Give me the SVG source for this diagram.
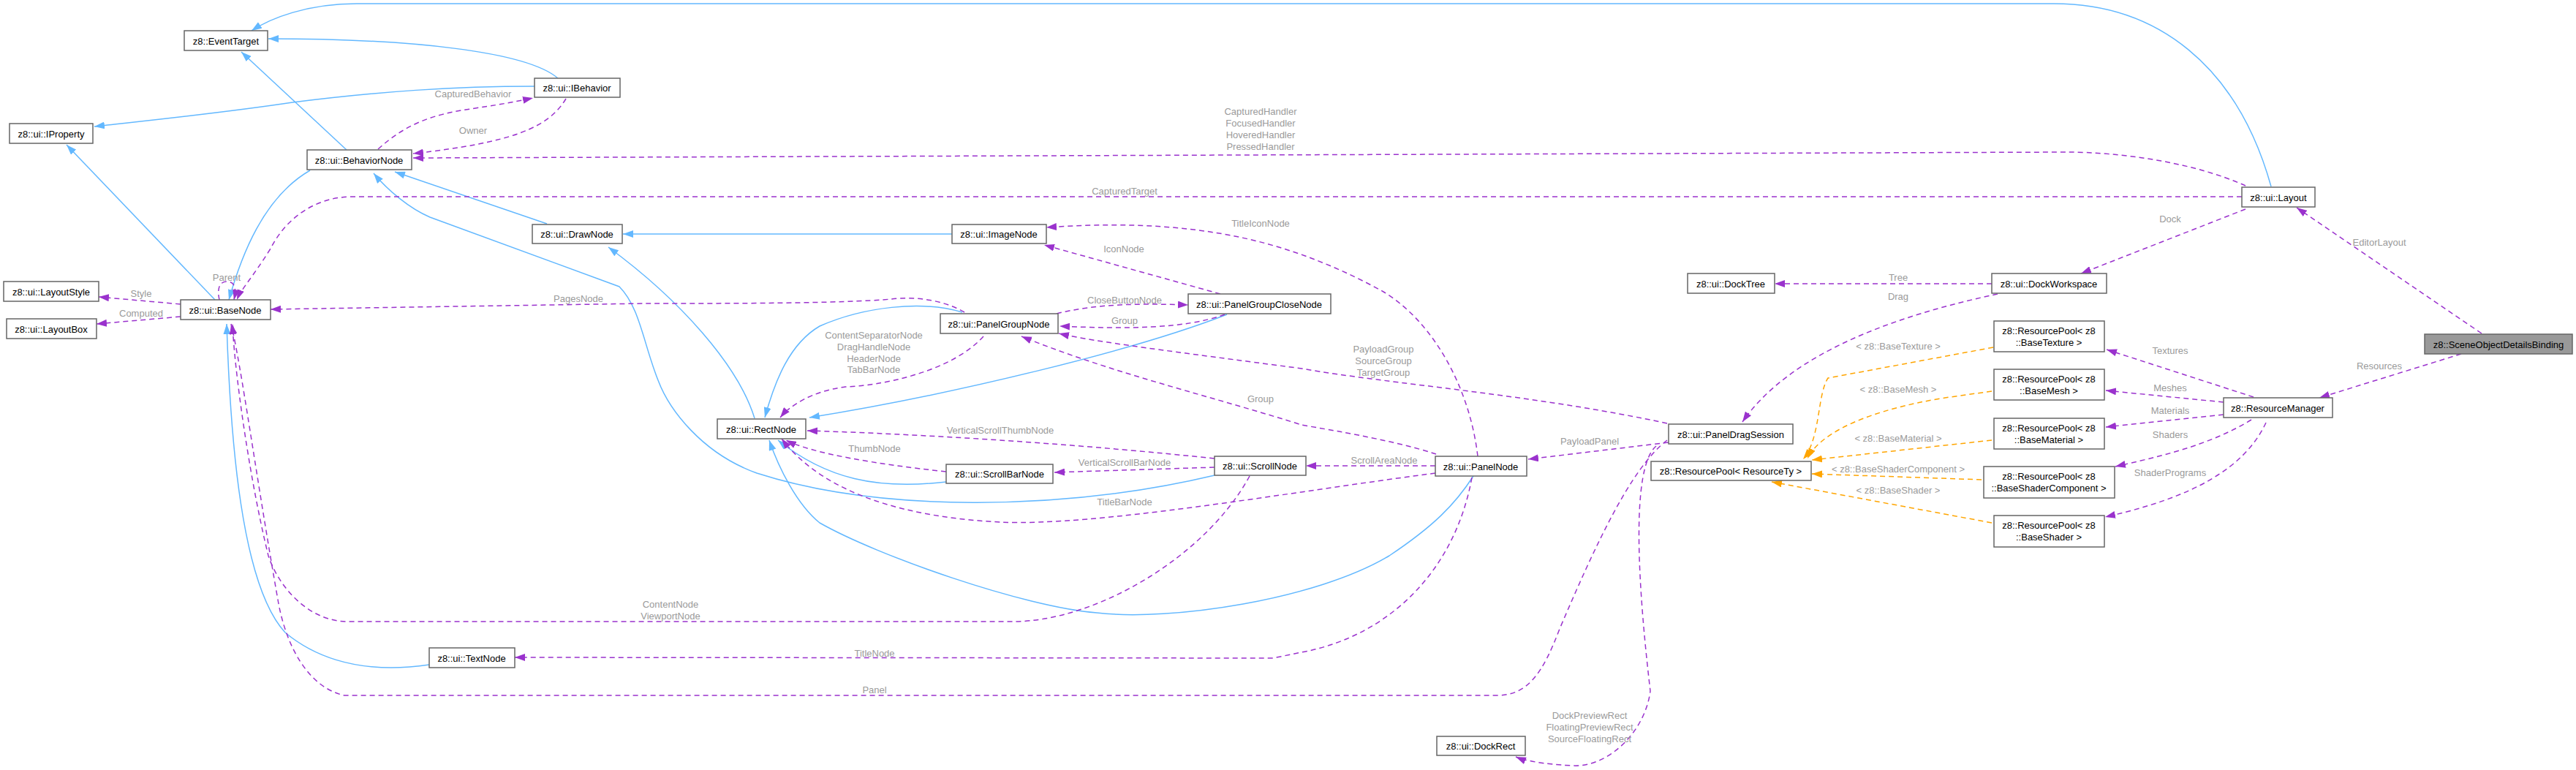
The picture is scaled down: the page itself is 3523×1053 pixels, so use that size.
<svg xmlns="http://www.w3.org/2000/svg" width="3523" height="1053" viewBox="0 0 3523 1053">
<style>
text{font-family:"Liberation Sans",Arial,sans-serif;font-size:13px;text-anchor:middle;dominant-baseline:central}
.n rect{fill:#fff;stroke:#666;stroke-width:1.5}
.n text{fill:#000}
.hl rect{fill:#999}
.l{fill:#9a9a9a}
.e path{fill:none;stroke-width:1.5}
.b{stroke:#63b8ff}
.p{stroke:#9a32cd;stroke-dasharray:7,5}
.o{stroke:#ffa500;stroke-dasharray:7,5}
</style>
<defs>
<marker id="mb" markerUnits="userSpaceOnUse" markerWidth="14" markerHeight="10" refX="14" refY="5" orient="auto"><path d="M0,0L14,5L0,10z" fill="#63b8ff"/></marker>
<marker id="mp" markerUnits="userSpaceOnUse" markerWidth="14" markerHeight="10" refX="14" refY="5" orient="auto"><path d="M0,0L14,5L0,10z" fill="#9a32cd"/></marker>
<marker id="mo" markerUnits="userSpaceOnUse" markerWidth="14" markerHeight="10" refX="14" refY="5" orient="auto"><path d="M0,0L14,5L0,10z" fill="#ffa500"/></marker>
</defs>
<g id="edges" class="e">
<g marker-end="url(#mb)">
<path class="b" d="M3106,255 C3060,90 2950,5 2809,5 L488,5 C420,5 370,25 344,42"/>
<path class="b" d="M763,107 C720,70 560,53 367,53"/>
<path class="b" d="M731,118 C620,118 520,125 400,140 C300,155 200,165 129,173"/>
<path class="b" d="M474,205 L330,71"/>
<path class="b" d="M294,410 L91,198"/>
<path class="b" d="M424,233 C360,270 330,350 313,410"/>
<path class="b" d="M748,306 L540,235"/>
<path class="b" d="M1661,650 C1450,700 1200,700 1035,647 C960,620 915,560 900,520 C880,470 875,420 847,392 L588,297 C560,285 530,260 511,237"/>
<path class="b" d="M1302,320 L852,320"/>
<path class="b" d="M1032,572 C1010,500 930,410 832,338"/>
<path class="b" d="M1316,427 C1260,410 1180,420 1121,446 C1080,470 1060,520 1046,571"/>
<path class="b" d="M1678,430 C1550,480 1300,540 1107,571"/>
<path class="b" d="M1294,659 C1200,670 1130,655 1064,602"/>
<path class="b" d="M2015,651 C1990,690 1960,720 1900,760 C1800,820 1600,850 1500,838 C1400,830 1200,760 1121,715 C1090,690 1065,640 1052,602"/>
<path class="b" d="M587,909 C480,925 420,890 390,865 C330,800 315,600 310,443"/>
</g>
<g marker-end="url(#mp)">
<path class="p" d="M3071,254 C3000,222 2900,208 2826,208 L565,216"/>
<path class="p" d="M3066,269 L482,269 C430,269 390,300 370,340 C345,380 330,395 324,410"/>
<path class="p" d="M517,204 C560,165 600,155 650,148 C690,142 710,138 729,134"/>
<path class="p" d="M774,135 C750,175 700,195 565,210"/>
<path class="p" d="M300,410 C296,392 302,385 310,385 C320,385 324,392 320,410"/>
<path class="p" d="M247,416 L135,406"/>
<path class="p" d="M247,433 L132,443"/>
<path class="p" d="M1319,427 C1290,410 1250,405 1219,409 C1150,415 1000,415 880,415 L370,423"/>
<path class="p" d="M2021,624 C2010,530 1960,440 1892,399 C1840,370 1780,345 1720,330 C1620,305 1520,305 1431,311"/>
<path class="p" d="M1669,402 L1428,335"/>
<path class="p" d="M1445,429 C1500,415 1560,415 1625,417"/>
<path class="p" d="M1675,430 C1620,450 1540,450 1449,446"/>
<path class="p" d="M2280,579 C2100,540 1900,525 1780,504 C1600,480 1500,468 1448,456"/>
<path class="p" d="M1964,621 C1900,600 1800,585 1780,581 C1650,540 1520,510 1397,460"/>
<path class="p" d="M1345,460 C1300,510 1200,528 1156,529 C1110,535 1080,555 1067,571"/>
<path class="p" d="M1661,627 C1500,610 1300,595 1104,589"/>
<path class="p" d="M1294,645 C1200,635 1110,620 1075,602"/>
<path class="p" d="M1661,639 L1442,646"/>
<path class="p" d="M1963,637 L1786,637"/>
<path class="p" d="M1963,647 C1750,675 1500,720 1368,714 C1250,708 1130,680 1069,600"/>
<path class="p" d="M2282,605 L2090,628"/>
<path class="p" d="M1709,651 C1650,760 1500,850 1385,850 L476,850 C420,850 380,800 367,760 C340,650 320,500 318,443"/>
<path class="p" d="M2013,653 C1990,780 1900,870 1780,892 L1741,900 L704,899"/>
<path class="p" d="M2280,602 C2230,640 2180,750 2133,860 C2110,920 2090,951 2047,951 L471,951 C420,940 390,880 380,820 C350,650 330,500 316,443"/>
<path class="p" d="M2265,610 C2230,640 2240,800 2257,945 C2250,1000 2200,1050 2150,1047 C2110,1045 2085,1040 2073,1035"/>
<path class="p" d="M2724,388 L2427,388"/>
<path class="p" d="M2732,402 C2600,430 2450,480 2383,577"/>
<path class="p" d="M3071,286 L2846,374"/>
<path class="p" d="M3394,456 L3141,284"/>
<path class="p" d="M3366,484 L3172,544"/>
<path class="p" d="M3082,543 L2881,478"/>
<path class="p" d="M3041,550 L2880,534"/>
<path class="p" d="M3041,567 L2880,584"/>
<path class="p" d="M3079,574 C3020,610 2950,625 2893,638"/>
<path class="p" d="M3099,578 C3070,640 3000,680 2879,707"/>
</g>
<g marker-end="url(#mo)">
<path class="o" d="M2726,475 L2500,517 C2485,540 2490,600 2466,628"/>
<path class="o" d="M2724,535 L2660,544 C2560,560 2490,590 2472,627"/>
<path class="o" d="M2724,602 L2478,629"/>
<path class="o" d="M2710,656 L2478,648"/>
<path class="o" d="M2724,715 L2423,659"/>
</g>
<g class="l">
<text x="647" y="128">CapturedBehavior</text>
<text x="647" y="178">Owner</text>
<text x="310" y="379">Parent</text>
<text x="193" y="401">Style</text>
<text x="193" y="428">Computed</text>
<text x="791" y="408">PagesNode</text>
<text x="1724" y="152">CapturedHandler</text>
<text x="1724" y="168">FocusedHandler</text>
<text x="1724" y="184">HoveredHandler</text>
<text x="1724" y="200">PressedHandler</text>
<text x="1538" y="261">CapturedTarget</text>
<text x="1724" y="305">TitleIconNode</text>
<text x="1537" y="340">IconNode</text>
<text x="1538" y="410">CloseButtonNode</text>
<text x="1538" y="438">Group</text>
<text x="1195" y="458">ContentSeparatorNode</text>
<text x="1195" y="474">DragHandleNode</text>
<text x="1195" y="490">HeaderNode</text>
<text x="1195" y="505">TabBarNode</text>
<text x="2596" y="379">Tree</text>
<text x="2596" y="405">Drag</text>
<text x="1892" y="477">PayloadGroup</text>
<text x="1892" y="493">SourceGroup</text>
<text x="1892" y="509">TargetGroup</text>
<text x="2596" y="473">&lt; z8::BaseTexture &gt;</text>
<text x="2968" y="299">Dock</text>
<text x="3254" y="331">EditorLayout</text>
<text x="2968" y="479">Textures</text>
<text x="3254" y="500">Resources</text>
<text x="2968" y="530">Meshes</text>
<text x="2968" y="561">Materials</text>
<text x="2968" y="594">Shaders</text>
<text x="2968" y="646">ShaderPrograms</text>
<text x="2596" y="532">&lt; z8::BaseMesh &gt;</text>
<text x="2596" y="599">&lt; z8::BaseMaterial &gt;</text>
<text x="2596" y="641">&lt; z8::BaseShaderComponent &gt;</text>
<text x="2596" y="670">&lt; z8::BaseShader &gt;</text>
<text x="2174" y="603">PayloadPanel</text>
<text x="1893" y="629">ScrollAreaNode</text>
<text x="2174" y="978">DockPreviewRect</text>
<text x="2174" y="994">FloatingPreviewRect</text>
<text x="2174" y="1010">SourceFloatingRect</text>
<text x="1368" y="588">VerticalScrollThumbNode</text>
<text x="1196" y="613">ThumbNode</text>
<text x="1538" y="632">VerticalScrollBarNode</text>
<text x="1538" y="686">TitleBarNode</text>
<text x="1724" y="545">Group</text>
<text x="917" y="826">ContentNode</text>
<text x="917" y="842">ViewportNode</text>
<text x="1196" y="893">TitleNode</text>
<text x="1196" y="943">Panel</text>
</g>
</g>
<g id="EventTarget" class="n"><rect x="252" y="42" width="114" height="27"/><text x="309" y="56">z8::EventTarget</text></g>
<g id="IBehavior" class="n"><rect x="731" y="107" width="117" height="26"/><text x="789" y="120">z8::ui::IBehavior</text></g>
<g id="IProperty" class="n"><rect x="13" y="169" width="114" height="27"/><text x="70" y="183">z8::ui::IProperty</text></g>
<g id="BehaviorNode" class="n"><rect x="420" y="205" width="143" height="27"/><text x="491" y="219">z8::ui::BehaviorNode</text></g>
<g id="DrawNode" class="n"><rect x="728" y="307" width="123" height="26"/><text x="789" y="320">z8::ui::DrawNode</text></g>
<g id="LayoutStyle" class="n"><rect x="5" y="385" width="130" height="27"/><text x="70" y="399">z8::ui::LayoutStyle</text></g>
<g id="BaseNode" class="n"><rect x="247" y="410" width="123" height="27"/><text x="308" y="424">z8::ui::BaseNode</text></g>
<g id="LayoutBox" class="n"><rect x="9" y="436" width="123" height="27"/><text x="70" y="450">z8::ui::LayoutBox</text></g>
<g id="TextNode" class="n"><rect x="587" y="886" width="117" height="27"/><text x="645" y="900">z8::ui::TextNode</text></g>
<g id="ImageNode" class="n"><rect x="1302" y="307" width="129" height="26"/><text x="1366" y="320">z8::ui::ImageNode</text></g>
<g id="PanelGroupCloseNode" class="n"><rect x="1625" y="402" width="195" height="27"/><text x="1722" y="416">z8::ui::PanelGroupCloseNode</text></g>
<g id="PanelGroupNode" class="n"><rect x="1286" y="429" width="161" height="27"/><text x="1366" y="443">z8::ui::PanelGroupNode</text></g>
<g id="RectNode" class="n"><rect x="981" y="573" width="121" height="27"/><text x="1041" y="587">z8::ui::RectNode</text></g>
<g id="ScrollBarNode" class="n"><rect x="1294" y="635" width="146" height="26"/><text x="1367" y="648">z8::ui::ScrollBarNode</text></g>
<g id="ScrollNode" class="n"><rect x="1661" y="624" width="125" height="26"/><text x="1723" y="637">z8::ui::ScrollNode</text></g>
<g id="PanelNode" class="n"><rect x="1963" y="624" width="125" height="27"/><text x="2025" y="638">z8::ui::PanelNode</text></g>
<g id="PanelDragSession" class="n"><rect x="2282" y="580" width="170" height="27"/><text x="2367" y="594">z8::ui::PanelDragSession</text></g>
<g id="ResourcePool" class="n"><rect x="2258" y="631" width="219" height="26"/><text x="2367" y="644">z8::ResourcePool&lt; ResourceTy &gt;</text></g>
<g id="DockRect" class="n"><rect x="1965" y="1007" width="121" height="26"/><text x="2025" y="1020">z8::ui::DockRect</text></g>
<g id="DockTree" class="n"><rect x="2308" y="374" width="119" height="27"/><text x="2367" y="388">z8::ui::DockTree</text></g>
<g id="DockWorkspace" class="n"><rect x="2724" y="374" width="157" height="27"/><text x="2802" y="388">z8::ui::DockWorkspace</text></g>
<g id="Layout" class="n"><rect x="3066" y="256" width="100" height="27"/><text x="3116" y="270">z8::ui::Layout</text></g>
<g id="SceneObjectDetailsBinding" class="n hl"><rect x="3316" y="457" width="202" height="27"/><text x="3417" y="471">z8::SceneObjectDetailsBinding</text></g>
<g id="ResourceManager" class="n"><rect x="3041" y="544" width="149" height="27"/><text x="3115" y="558">z8::ResourceManager</text></g>
<g id="RPTexture" class="n"><rect x="2727" y="439" width="151" height="42"/><text x="2802" y="452">z8::ResourcePool&lt; z8</text><text x="2802" y="468">::BaseTexture &gt;</text></g>
<g id="RPMesh" class="n"><rect x="2727" y="505" width="151" height="42"/><text x="2802" y="518">z8::ResourcePool&lt; z8</text><text x="2802" y="534">::BaseMesh &gt;</text></g>
<g id="RPMaterial" class="n"><rect x="2727" y="572" width="151" height="42"/><text x="2802" y="585">z8::ResourcePool&lt; z8</text><text x="2802" y="601">::BaseMaterial &gt;</text></g>
<g id="RPShaderComponent" class="n"><rect x="2713" y="638" width="179" height="43"/><text x="2802" y="651">z8::ResourcePool&lt; z8</text><text x="2802" y="667">::BaseShaderComponent &gt;</text></g>
<g id="RPShader" class="n"><rect x="2727" y="705" width="151" height="43"/><text x="2802" y="718">z8::ResourcePool&lt; z8</text><text x="2802" y="734">::BaseShader &gt;</text></g>
</svg>
